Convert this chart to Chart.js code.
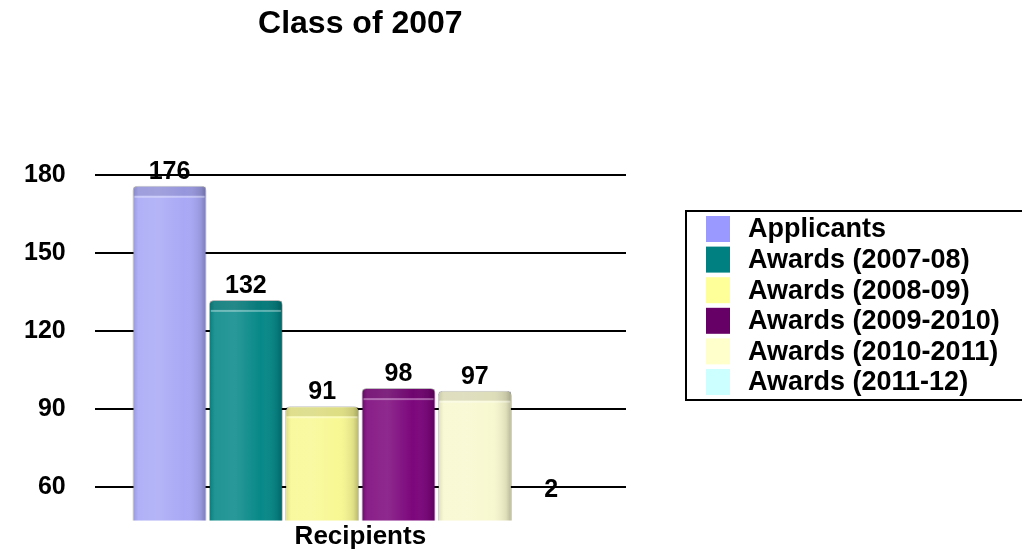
<!DOCTYPE html>
<html>
<head>
<meta charset="utf-8">
<script src="https://cdn.jsdelivr.net/npm/chart.js@4/dist/chart.umd.min.js"></script>
<style>
  html, body { margin: 0; padding: 0; background: #ffffff; }
  #wrap { width: 1022px; height: 553px; position: relative; }
</style>
</head>
<body>
<div id="wrap"><canvas id="c" width="1022" height="553"></canvas></div>
<script>
// ---- data ----
const chartTitle = 'Class of 2007';
const categories = ['Recipients'];
const seriesLabels = ['Applicants', 'Awards (2007-08)', 'Awards (2008-09)', 'Awards (2009-2010)', 'Awards (2010-2011)', 'Awards (2011-12)'];
const seriesValues = [176, 132, 91, 98, 97, 2];
const yTickValues = [60, 90, 120, 150, 180];
const yMin = 47;
const yMax = 180;

// ---- styles ----
const barColors = ['#A8A8F6', '#078888', '#F8F894', '#7C067C', '#F8F8D0', '#CCFFFF'];
const legendColors = ['#9999FF', '#008080', '#FFFF99', '#660066', '#FFFFCC', '#CCFFFF'];
const FONT = '"Liberation Sans", Arial, Helvetica, sans-serif';

const datasets = seriesLabels.map((lab, i) => ({
  label: lab,
  data: [seriesValues[i]],
  backgroundColor: barColors[i],
  borderColor: 'rgba(0,0,0,0.25)',
  borderWidth: 1,
  borderRadius: 5,
  borderSkipped: false,
  barPercentage: 0.97,
  categoryPercentage: 0.862
}));

const shadePlugin = {
  id: 'shade',
  afterDatasetsDraw(chart) {
    const ctx = chart.ctx, area = chart.chartArea;
    ctx.save();
    ctx.beginPath();
    ctx.rect(area.left - 10, 0, area.right - area.left + 20, area.bottom);
    ctx.clip();
    chart.data.datasets.forEach((ds, i) => {
      const meta = chart.getDatasetMeta(i);
      meta.data.forEach(el => {
        const p = el.getProps(['x', 'y', 'base', 'width'], true);
        if (p.y >= p.base) return;
        const l = p.x - p.width / 2, w = p.width, h = p.base - p.y;
        const g = ctx.createLinearGradient(l, 0, l + w, 0);
        g.addColorStop(0, 'rgba(0,0,0,0.12)');
        g.addColorStop(0.08, 'rgba(255,255,255,0.10)');
        g.addColorStop(0.35, 'rgba(255,255,255,0.14)');
        g.addColorStop(0.7, 'rgba(255,255,255,0)');
        g.addColorStop(0.92, 'rgba(0,0,0,0.10)');
        g.addColorStop(1, 'rgba(0,0,0,0.28)');
        ctx.fillStyle = g;
        ctx.fillRect(l + 1, p.y + 1, w - 2, h - 2);
        // top cap
        ctx.fillStyle = 'rgba(0,0,0,0.10)';
        ctx.fillRect(l + 1, p.y + 1, w - 2, 9);
        ctx.fillStyle = 'rgba(255,255,255,0.35)';
        ctx.fillRect(l + 2, p.y + 10, w - 4, 2);
      });
    });
    ctx.restore();
  }
};

const valueLabelPlugin = {
  id: 'valueLabels',
  afterDatasetsDraw(chart) {
    const ctx = chart.ctx, area = chart.chartArea;
    ctx.save();
    ctx.font = 'bold 25px ' + FONT;
    ctx.fillStyle = '#000';
    ctx.textAlign = 'center';
    ctx.textBaseline = 'middle';
    chart.data.datasets.forEach((ds, i) => {
      const meta = chart.getDatasetMeta(i);
      meta.data.forEach((el, j) => {
        const v = ds.data[j];
        const p = el.getProps(['x', 'y'], true);
        const y = v >= yMin ? p.y - 14 : area.bottom - 30;
        ctx.fillText(String(v), p.x, y);
      });
    });
    ctx.restore();
  }
};

const boxLegendPlugin = {
  id: 'boxLegend',
  afterDraw(chart, args, opts) {
    const ctx = chart.ctx;
    ctx.save();
    ctx.lineWidth = 2;
    ctx.strokeStyle = '#000';
    ctx.strokeRect(opts.x, opts.y, opts.w, opts.h);
    ctx.font = 'bold 27px ' + FONT;
    ctx.textAlign = 'left';
    ctx.textBaseline = 'middle';
    chart.data.datasets.forEach((ds, i) => {
      const top = opts.y + opts.padTop + i * opts.row;
      ctx.fillStyle = legendColors[i];
      ctx.fillRect(opts.x + opts.swX, top, opts.sw, opts.sh);
      ctx.fillStyle = '#000';
      ctx.fillText(ds.label, opts.x + opts.textX, top + opts.sh / 2 + 1);
    });
    ctx.restore();
  }
};

new Chart(document.getElementById('c'), {
  type: 'bar',
  data: { labels: categories, datasets },
  plugins: [shadePlugin, valueLabelPlugin, boxLegendPlugin],
  options: {
    responsive: false,
    animation: false,
    devicePixelRatio: 1,
    layout: { padding: { left: 21, right: 396, top: 0, bottom: 0 } },
    plugins: {
      legend: { display: false },
      tooltip: { enabled: false },
      title: {
        display: true,
        text: chartTitle,
        fullSize: false,
        color: '#000',
        font: { family: FONT, size: 32, weight: 'bold' },
        padding: { top: 5, bottom: 132 }
      },
      boxLegend: { x: 686, y: 211, w: 340, h: 189, padTop: 5, row: 30.6, swX: 20, sw: 24, sh: 26, textX: 62 }
    },
    scales: {
      x: {
        grid: { display: false, drawTicks: false, tickLength: 0 },
        border: { display: false },
        ticks: { color: '#000', padding: 2, font: { family: FONT, size: 26, weight: 'bold', lineHeight: 1.1 } }
      },
      y: {
        min: yMin,
        max: yMax,
        afterBuildTicks(scale) { scale.ticks = yTickValues.map(v => ({ value: v })); },
        grid: { color: '#000', lineWidth: 2, drawTicks: true, tickLength: 26, tickColor: 'rgba(0,0,0,0)' },
        border: { display: false },
        ticks: { color: '#000', padding: 3, font: { family: FONT, size: 25, weight: 'bold' } }
      }
    }
  }
});
</script>
</body>
</html>
